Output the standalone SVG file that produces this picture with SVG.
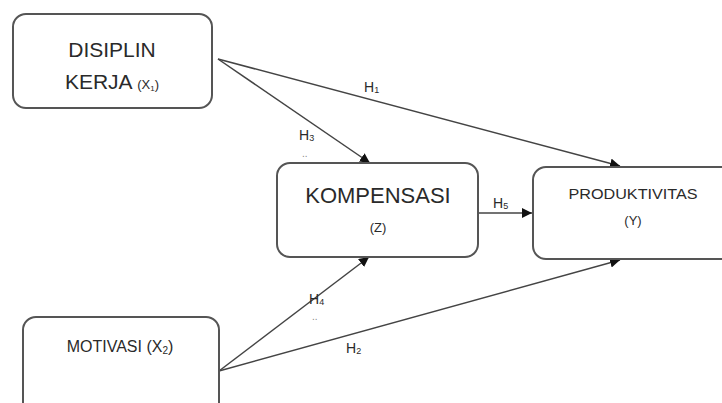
<svg xmlns="http://www.w3.org/2000/svg" width="722" height="403" viewBox="0 0 722 403">
<style>
.box{fill:#fff;stroke:#555;stroke-width:2}
.t{font-family:"Liberation Sans",Arial,sans-serif;fill:#2a2a2a;text-anchor:middle}
.lbl{font-family:"Liberation Sans",Arial,sans-serif;fill:#2a2a2a;font-size:14px}
.c{stroke:#444;stroke-width:1.5;fill:none;marker-end:url(#ah)}
.dots{font-family:"Liberation Sans",Arial,sans-serif;fill:#888;font-size:10px}
</style>
<defs>
<marker id="ah" viewBox="0 0 10 10" refX="10" refY="5" markerWidth="10" markerHeight="10" markerUnits="userSpaceOnUse" orient="auto">
<path d="M0,0 L10,5 L0,10 z" fill="#111"/>
</marker>
</defs>
<rect width="722" height="403" fill="#fff"/>
<g id="connectors">
<line class="c" x1="218" y1="59" x2="370" y2="163"/>
<line class="c" x1="218" y1="59" x2="620" y2="166"/>
<line class="c" x1="478" y1="213" x2="532" y2="213"/>
<line class="c" x1="219" y1="371" x2="369" y2="257"/>
<line class="c" x1="219" y1="371" x2="620" y2="260"/>
<text class="lbl" x="364" y="92">H<tspan font-size="9" dy="1">1</tspan></text>
<text class="lbl" x="299" y="140">H<tspan font-size="9" dy="1">3</tspan></text>
<text class="dots" x="302" y="157">..</text>
<text class="lbl" x="493" y="208">H<tspan font-size="9" dy="1">5</tspan></text>
<text class="lbl" x="309" y="304">H<tspan font-size="9" dy="1">4</tspan></text>
<text class="dots" x="312" y="320">..</text>
<text class="lbl" x="346" y="353">H<tspan font-size="9" dy="1">2</tspan></text>
</g>
<g id="disiplin">
<rect class="box" x="13" y="14" width="199" height="94" rx="13"/>
<text class="t" x="112" y="57" font-size="21">DISIPLIN</text>
<text class="t" x="112" y="89" font-size="21">KERJA <tspan font-size="13">(X<tspan font-size="8" dy="2">1</tspan><tspan dy="-2">)</tspan></tspan></text>
</g>
<g id="kompensasi">
<rect class="box" x="277" y="163" width="201" height="94" rx="13"/>
<text class="t" x="378" y="203" font-size="22">KOMPENSASI</text>
<text class="t" x="378" y="232" font-size="13">(Z)</text>
</g>
<g id="produktivitas">
<rect class="box" x="533" y="167" width="210" height="92" rx="13"/>
<text class="t" x="633" y="199" font-size="15" textLength="129" lengthAdjust="spacingAndGlyphs">PRODUKTIVITAS</text>
<text class="t" x="633" y="225" font-size="13">(Y)</text>
</g>
<g id="motivasi">
<rect class="box" x="23" y="317" width="196" height="100" rx="13"/>
<text class="t" x="120" y="352" font-size="16">MOTIVASI (X<tspan font-size="10" dy="2">2</tspan><tspan dy="-2">)</tspan></text>
</g>
</svg>
